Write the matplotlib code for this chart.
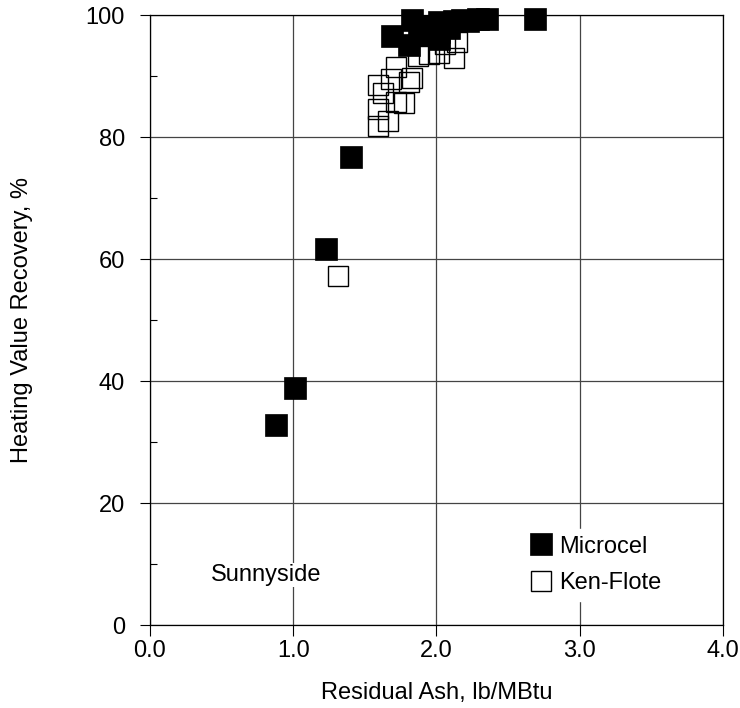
import numpy as np
import matplotlib
matplotlib.use('Agg')
import matplotlib.pyplot as plt
from matplotlib.ticker import MultipleLocator

plt.rcParams['font.family'] = ['Liberation Sans', 'DejaVu Sans']

# Microcel (filled squares)
micro_ash = [0.88, 1.01, 1.23, 1.40, 1.69, 1.81, 1.83, 1.88, 1.95, 2.02,
             2.02, 2.02, 2.09, 2.12, 2.18, 2.22, 2.29, 2.35, 2.69]
micro_rec = [32.8, 38.9, 61.6, 76.7, 96.6, 95.1, 99.2, 98.2, 96.7, 98.9,
             97.2, 96.1, 97.9, 99.0, 99.2, 99.0, 99.3, 99.3, 99.3]

# Ken-Flote (open squares)
ken_ash = [1.31, 1.59, 1.59, 1.66, 1.59, 1.63, 1.68, 1.72, 1.72, 1.77,
           1.81, 1.83, 1.87, 1.95, 2.02, 2.12, 2.14, 2.06]
ken_rec = [57.2, 81.8, 84.6, 82.6, 88.5, 87.2, 89.5, 91.5, 85.7, 85.6,
           89.0, 89.7, 93.3, 93.6, 93.8, 93.0, 95.6, 95.2]

FS = 17

fig = plt.figure(figsize=(7.4, 7.08), dpi=100)
ax = fig.add_axes([0.2027, 0.1172, 0.7743, 0.8616])

ax.plot(micro_ash, micro_rec, 's', color='black', markersize=15.5,
        markeredgewidth=0.5, label='Microcel', clip_on=False, zorder=3)
ax.plot(ken_ash, ken_rec, 's', markerfacecolor='none', markeredgecolor='black',
        markersize=15, markeredgewidth=1.0, label='Ken-Flote', clip_on=False, zorder=4)

ax.set_xlim(0, 4)
ax.set_ylim(0, 100)
ax.set_xticks(np.arange(0, 4.01, 1.0))
ax.set_xticklabels(['%.1f' % v for v in np.arange(0, 4.01, 1.0)])
ax.set_yticks(np.arange(0, 101, 20))
ax.yaxis.set_minor_locator(MultipleLocator(10))

ax.grid(True, which='major', color='#444444', linewidth=0.9)
ax.set_axisbelow(True)
for s in ax.spines.values():
    s.set_linewidth(0.9)

ax.tick_params(axis='x', which='major', direction='out', length=8,
               width=0.8, labelsize=FS, pad=3)
ax.tick_params(axis='y', which='major', direction='out', length=7,
               width=0.8, labelsize=FS, pad=11)
ax.tick_params(axis='y', which='minor', direction='in', length=5, width=0.8)

ax.set_xlabel('Residual Ash, lb/MBtu', fontsize=FS)
ax.set_ylabel('Heating Value Recovery, %', fontsize=FS)
ax.xaxis.set_label_coords(0.5, -0.111)
ax.yaxis.set_label_coords(-0.2226, 0.5)
ax.xaxis.label.set_va('center')
ax.yaxis.label.set_va('center')

ax.text(0.424, 8.2, 'Sunnyside', fontsize=FS, ha='left', va='center',
        bbox=dict(facecolor='white', edgecolor='none', pad=1))

leg = ax.legend(loc='center left', bbox_to_anchor=(2.608, 9.84),
                bbox_transform=ax.transData, fontsize=FS,
                frameon=True, handlelength=0.9, handletextpad=0.3,
                labelspacing=0.62, borderpad=0.3, borderaxespad=0,
                markerscale=1.0)
leg.get_frame().set_facecolor('white')
leg.get_frame().set_edgecolor('white')
leg.get_frame().set_alpha(1)

fig.savefig('out.png', dpi=100)
